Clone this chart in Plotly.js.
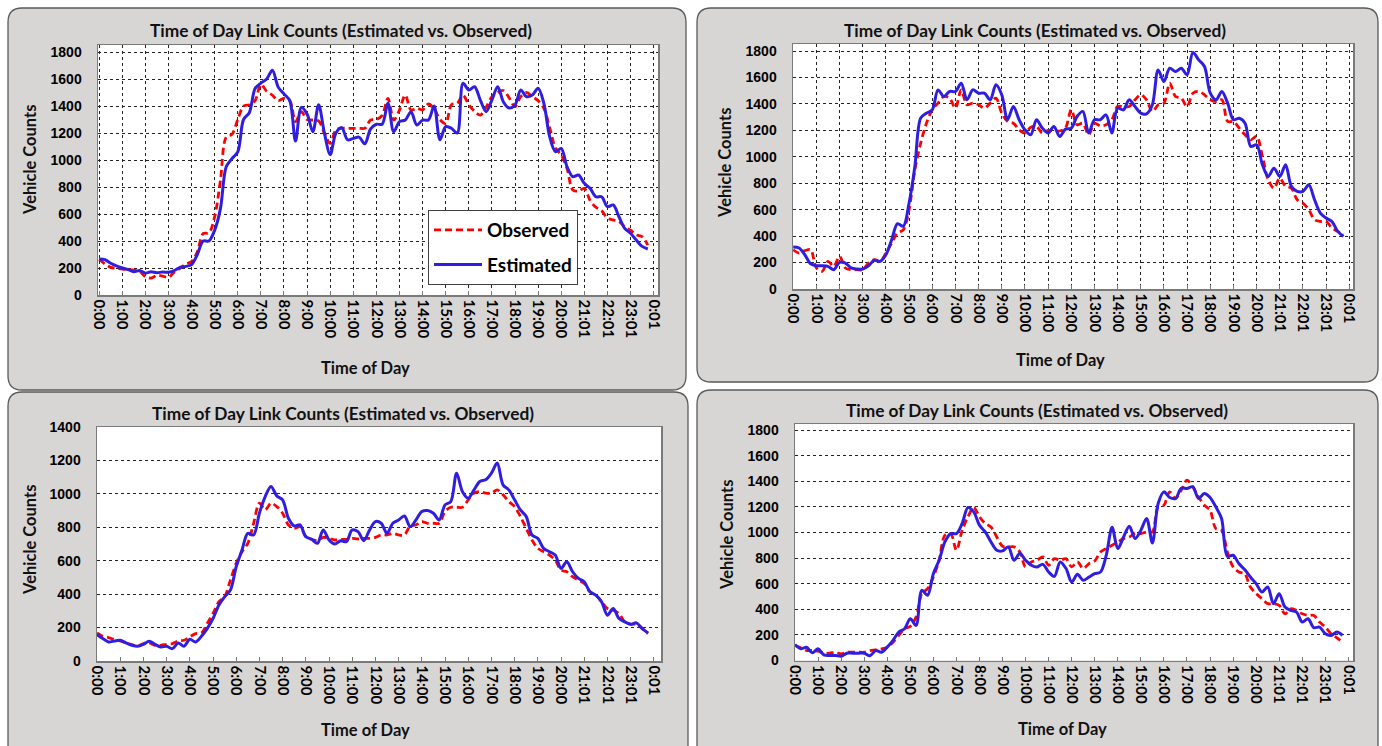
<!DOCTYPE html>
<html>
<head>
<meta charset="utf-8">
<script src="https://cdn.plot.ly/plotly-3.0.1.min.js"></script>
<style>
html,body{margin:0;padding:0;background:#fff;}
#chart{width:1382px;height:746px;}
</style>
</head>
<body>
<div id="chart"></div>
<script>
// ---------------- DATA (15-minute intervals, 0:00 .. 23:45) ----------------
const tickLabels = ['0:00','1:00','2:00','3:00','4:00','5:00','6:00','7:00','8:00','9:00','10:00','11:00','12:00','13:00','14:00','15:00','16:00','17:00','18:00','19:00','20:00','21:01','22:01','23:01','0:01'];
const chartTitle = 'Time of Day Link Counts (Estimated vs. Observed)';
const seriesNames = ['Observed','Estimated'];

const tlObserved = [265,230,205,198,192,188,185,175,135,125,145,140,130,170,198,230,
  247,320,455,460,580,850,1170,1190,1300,1400,1410,1440,1560,1510,1480,1440,
  1457,1440,1284,1358,1300,1296,1290,1200,1123,1222,1235,1235,1235,1235,1235,1296,
  1300,1330,1457,1296,1370,1481,1370,1383,1372,1415,1380,1300,1270,1410,1420,1480,
  1410,1360,1333,1390,1470,1500,1515,1460,1395,1470,1500,1470,1440,1383,1240,1090,
  1037,938,778,770,790,700,650,625,570,556,545,505,480,445,432,370];
const tlEstimated = [267,262,235,215,200,188,172,182,162,172,165,170,168,180,205,212,
  225,300,400,400,480,640,950,1010,1060,1300,1350,1530,1570,1600,1665,1540,
  1490,1440,1140,1390,1340,1210,1410,1200,1040,1200,1240,1150,1160,1170,1120,1230,
  1265,1265,1420,1210,1284,1296,1358,1259,1296,1296,1400,1150,1247,1235,1200,1568,
  1519,1543,1444,1358,1444,1543,1430,1385,1407,1519,1469,1481,1531,1420,1173,1062,
  1086,951,877,889,827,790,728,728,654,667,580,494,457,407,360,341];

const trObserved = [297,272,290,297,159,134,209,171,247,159,146,146,146,196,222,209,
  272,348,423,448,600,902,1103,1254,1355,1406,1456,1443,1368,1506,1393,1406,
  1393,1368,1406,1443,1330,1267,1254,1204,1179,1224,1229,1179,1200,1195,1195,1217,
  1355,1242,1254,1166,1254,1234,1242,1280,1380,1380,1380,1431,1469,1431,1343,1393,
  1406,1557,1456,1443,1380,1481,1494,1469,1431,1418,1431,1267,1267,1217,1166,1128,
  1154,1003,826,763,839,776,763,675,650,600,524,511,511,461,436,411];
const trEstimated = [317,310,259,191,176,176,171,146,201,196,159,151,151,176,217,209,
  259,373,494,474,650,927,1292,1330,1355,1506,1456,1494,1494,1557,1431,1506,
  1481,1481,1431,1544,1469,1280,1380,1280,1204,1166,1280,1217,1180,1229,1154,1209,
  1217,1305,1343,1179,1280,1280,1317,1179,1368,1355,1431,1380,1330,1325,1393,1657,
  1569,1670,1645,1670,1620,1788,1733,1683,1481,1431,1494,1406,1280,1292,1254,1078,
  1091,940,851,914,851,940,776,738,738,788,675,574,537,511,436,398];

const blObserved = [168,148,140,128,120,108,98,90,104,108,94,94,100,104,120,124,
  144,164,168,224,284,354,384,484,584,654,704,824,944,904,944,924,
  884,814,794,804,744,728,720,740,734,724,728,728,734,730,734,734,
  740,754,754,764,754,754,808,814,834,824,824,824,894,920,920,920,
  964,1004,1014,1004,1004,1024,994,954,924,864,794,724,674,654,634,604,
  544,534,504,484,464,414,394,354,314,304,284,234,220,220,194,164];
const blEstimated = [158,134,114,120,124,108,94,88,100,118,100,84,88,74,108,88,
  130,114,148,194,254,334,384,424,564,664,764,754,884,984,1044,988,
  964,854,808,814,744,728,704,784,724,700,720,714,784,774,720,784,
  834,824,764,824,844,868,804,844,894,900,884,844,934,954,1124,1014,
  974,1024,1074,1084,1124,1184,1054,1024,964,904,864,754,734,674,654,634,
  554,594,534,494,474,414,394,354,274,314,254,234,220,228,194,168];

const brObserved = [117,99,78,78,73,57,57,65,52,65,65,65,65,78,83,91,
  104,143,196,248,266,339,522,561,652,783,978,991,861,1017,1122,1195,
  1122,1070,1043,965,892,887,887,848,731,770,783,809,744,796,783,796,
  731,770,718,757,778,848,874,900,926,952,965,991,991,1004,1004,1200,
  1213,1317,1265,1330,1409,1357,1278,1213,1174,1030,1017,848,731,691,678,574,
  522,483,444,444,430,365,404,391,365,352,352,300,261,209,177,143];
const brEstimated = [125,91,104,60,91,44,39,39,34,57,57,57,57,37,78,65,
  104,157,222,248,326,274,548,509,678,783,926,991,991,1070,1195,1161,
  1057,1004,926,861,856,887,783,835,783,744,731,751,691,657,770,720,
  613,673,626,652,678,691,822,1040,874,965,1049,952,1017,1109,918,1226,
  1317,1273,1265,1344,1344,1357,1265,1304,1273,1200,1109,814,822,757,710,652,
  600,535,574,444,522,417,391,378,300,326,256,261,209,196,222,196];

// ---------------- LAYOUT HELPERS ----------------
const W = 1382, H = 746;
const px = x => x / W;
const py = y => 1 - y / H;
const hours = tlObserved.map((_, i) => i / 4);   // category positions (hours)
const tickVals = tickLabels.map((_, i) => i);

const RED = '#ff0000', BLUE = '#2f1ee0';
const charts = [
  {obs: tlObserved, est: tlEstimated, panel:[8,8,686,390], plot:[98,45,658,295], xr:[-0.05,24.19], yr:[0,1852], ymax:1800, vgrid:true,
   title:[341,30], ytitle:[30,160], xtitle:[365,368], legend:true},
  {obs: trObserved, est: trEstimated, panel:[697,8,1378,382], plot:[793,44,1353,289], xr:[-0.01,24.16], yr:[0,1853], ymax:1800, vgrid:true,
   title:[1035,30], ytitle:[725,163], xtitle:[1060,360], legend:false},
  {obs: blObserved, est: blEstimated, panel:[8,392,688,760], plot:[97,427,661,661], xr:[0,24.31], yr:[0,1400], ymax:1400, vgrid:false,
   title:[343,413], ytitle:[30,540], xtitle:[365,730], legend:false},
  {obs: brObserved, est: brEstimated, panel:[697,390,1378,760], plot:[795,424,1353,660.5], xr:[0,24.2], yr:[0,1847], ymax:1800, vgrid:false,
   title:[1037,410], ytitle:[727,535], xtitle:[1062,729], legend:false}
];

function roundedPath(x0, y0, x1, y1, r) {
  const P = (x, y) => px(x) + ',' + py(y);
  return 'M' + P(x0 + r, y0) + ' L' + P(x1 - r, y0) + ' Q' + P(x1, y0) + ' ' + P(x1, y0 + r) +
    ' L' + P(x1, y1 - r) + ' Q' + P(x1, y1) + ' ' + P(x1 - r, y1) +
    ' L' + P(x0 + r, y1) + ' Q' + P(x0, y1) + ' ' + P(x0, y1 - r) +
    ' L' + P(x0, y0 + r) + ' Q' + P(x0, y0) + ' ' + P(x0 + r, y0) + ' Z';
}

const FAM = 'Lato, "Open Sans", sans-serif';
const titleFont = {family: FAM, size: 17.3, color: '#111', weight: 700};
const axisTitleFont = {family: FAM, size: 16.5, color: '#111', weight: 700};
const data = [], shapes = [], annotations = [];
const layout = {
  width: W, height: H, margin: {l: 0, r: 0, t: 0, b: 0},
  paper_bgcolor: '#ffffff', plot_bgcolor: 'rgba(0,0,0,0)',
  showlegend: true,
  legend: {x: px(428), y: py(210), xanchor: 'left', yanchor: 'top', bgcolor: '#ffffff',
    bordercolor: '#404040', borderwidth: 1, itemwidth: 48, traceorder: 'grouped', tracegroupgap: 7,
    font: {family: FAM, size: 19, color: '#000', weight: 700}}
};

charts.forEach((c, k) => {
  const n = k === 0 ? '' : String(k + 1);
  const xa = 'xaxis' + n, ya = 'yaxis' + n;
  const [p0, q0, p1, q1] = c.plot;
  shapes.push({type: 'path', xref: 'paper', yref: 'paper', layer: 'below',
    path: roundedPath(c.panel[0], c.panel[1], c.panel[2], c.panel[3], 14),
    fillcolor: '#d8d5d5', line: {color: '#5a5a5a', width: 1.3}});
  shapes.push({type: 'rect', xref: 'paper', yref: 'paper', layer: 'below',
    x0: px(p0), x1: px(p1), y0: py(q1), y1: py(q0), fillcolor: '#ffffff', line: {width: 0}});
  const yticks = [];
  for (let v = 0; v <= c.ymax; v += 200) yticks.push(v);
  layout[xa] = {domain: [px(p0), px(p1)], anchor: 'y' + n, range: c.xr, tickmode: 'array',
    tickvals: tickVals, ticktext: tickLabels, tickangle: 90, showgrid: c.vgrid,
    gridcolor: '#222', griddash: '3px,3px', gridwidth: 1, zeroline: false,
    showline: true, mirror: true, linecolor: '#7a7a7a', linewidth: 1.5,
    ticks: 'inside', ticklen: 4, tickcolor: '#7a7a7a',
    tickfont: {family: FAM, size: 15, color: '#000', weight: 700}};
  layout[ya] = {domain: [py(q1), py(q0)], anchor: 'x' + n, range: c.yr, tickmode: 'array',
    tickvals: yticks, showgrid: true, gridcolor: '#222', griddash: '3px,3px', gridwidth: 1,
    zeroline: false, showline: true, mirror: true, linecolor: '#7a7a7a', linewidth: 1.5,
    ticks: '', ticklabelstandoff: 12,
    tickfont: {family: '"Liberation Sans", Arial, sans-serif', size: 14, color: '#000', weight: 700}};
  data.push({x: hours, y: c.obs, type: 'scatter', mode: 'lines', name: seriesNames[0],
    xaxis: 'x' + n, yaxis: 'y' + n, showlegend: c.legend, legendgroup: 'g1',
    line: {color: RED, width: 2.8, dash: '7px,4px', shape: 'spline', smoothing: 0.9}});
  data.push({x: hours, y: c.est, type: 'scatter', mode: 'lines', name: seriesNames[1],
    xaxis: 'x' + n, yaxis: 'y' + n, showlegend: c.legend, legendgroup: 'g2',
    line: {color: BLUE, width: 3, shape: 'spline', smoothing: 0.9}});
  annotations.push({text: chartTitle, xref: 'paper', yref: 'paper', x: px(c.title[0]), y: py(c.title[1]),
    xanchor: 'center', yanchor: 'middle', showarrow: false, font: titleFont});
  annotations.push({text: 'Vehicle Counts', xref: 'paper', yref: 'paper', x: px(c.ytitle[0]), y: py(c.ytitle[1]),
    xanchor: 'center', yanchor: 'middle', textangle: -90, showarrow: false, font: axisTitleFont});
  annotations.push({text: 'Time of Day', xref: 'paper', yref: 'paper', x: px(c.xtitle[0]), y: py(c.xtitle[1]),
    xanchor: 'center', yanchor: 'middle', showarrow: false, font: axisTitleFont});
});
layout.shapes = shapes;
layout.annotations = annotations;

Plotly.newPlot('chart', data, layout, {displayModeBar: false, staticPlot: true});
</script>
</body>
</html>
